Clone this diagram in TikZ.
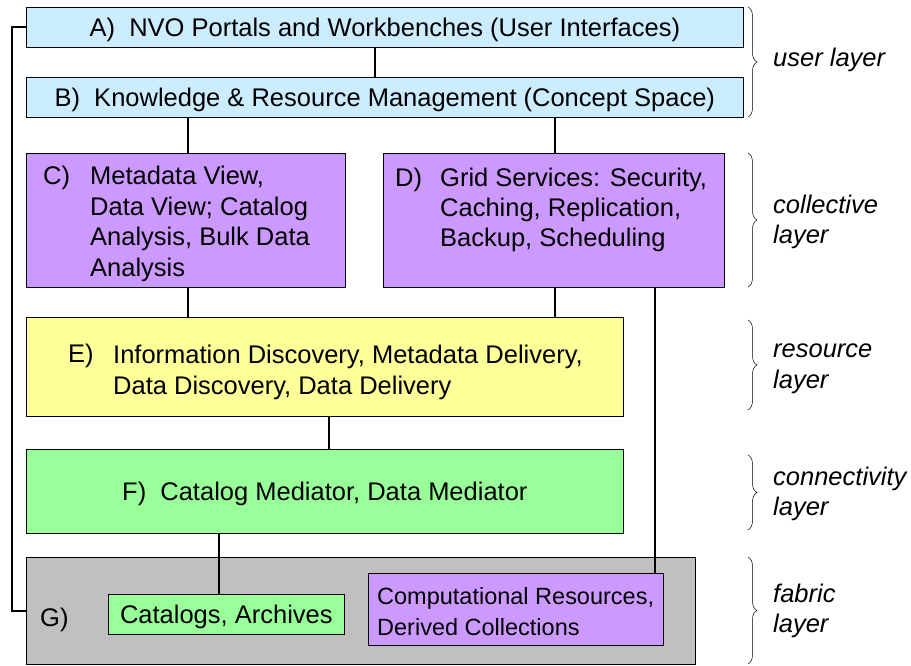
\documentclass[tikz,border=0pt]{standalone}
\usepackage{fontspec}
\setmainfont{Liberation Sans}
\usetikzlibrary{decorations.pathreplacing}
\definecolor{userblue}{HTML}{CCECFF}
\definecolor{gridpurple}{HTML}{CC99FF}
\definecolor{resyellow}{HTML}{FFFF99}
\definecolor{connGreen}{HTML}{99FF99}
\definecolor{fabricgray}{HTML}{C0C0C0}
\begin{document}
\begin{tikzpicture}[
  x=1pt, y=-1pt,
  font=\fontsize{25.5}{30.5}\selectfont,
  every node/.style={inner sep=0pt},
  box/.style={draw, line width=0.7pt, anchor=north west, text depth=0pt},
  txt/.style={anchor=base west, align=left},
  link/.style={draw, line width=1.8pt},
  layerbrace/.style={draw, line width=0.5pt, decorate, decoration={brace, amplitude=9pt}},
  layer/.style={anchor=west, align=left, font=\fontsize{25.5}{30.5}\selectfont\itshape}
]
\useasboundingbox (0,0) rectangle (911,666);
\node[box, fill=userblue, minimum width=717pt, minimum height=40pt] (A) at (26,7)
  {A)\ \ NVO Portals and Workbenches (User Interfaces)};
\node[box, fill=userblue, minimum width=717pt, minimum height=40pt] (B) at (26,77)
  {B)\ \ Knowledge \& Resource Management (Concept Space)};
\node[box, fill=gridpurple, minimum width=319pt, minimum height=134pt] (C) at (26,153) {};
\node[txt] (Cl) at (43,185) {C)};
\node[txt] (Ct) at (90,276) {Metadata View,\\Data View; Catalog\\Analysis, Bulk Data\\Analysis};
\node[box, fill=gridpurple, minimum width=341pt, minimum height=134pt] (D) at (383,153) {};
\node[txt] (Dl) at (395,186) {D)};
\node[txt] (Dt) at (440,247) {Grid Services: Security,\\Caching, Replication,\\Backup, Scheduling};
\node[box, fill=resyellow, minimum width=597pt, minimum height=99pt] (E) at (26,317) {};
\node[txt] (El) at (68,362) {E)};
\node[txt] (Et) at (113,394) {Information Discovery, Metadata Delivery,\\Data Discovery, Data Delivery};
\node[box, fill=connGreen, minimum width=597pt, minimum height=84pt] (F) at (26,449)
  {F)\ \ Catalog Mediator, Data Mediator};
\node[box, fill=fabricgray, minimum width=669pt, minimum height=107pt] (G) at (26,557) {};
\node[txt] (Gl) at (40,626) {G)};
\node[box, fill=connGreen, minimum width=236pt, minimum height=40pt] (cat) at (108,594)
  {Catalogs, Archives};
\node[box, fill=gridpurple, minimum width=295pt, minimum height=72pt] (comp) at (368,573) {};
\node[txt, font=\fontsize{23.5}{31}\selectfont] (compt) at (377,635) {Computational Resources,\\Derived Collections};
\draw[link] (A.south -| 375,0) -- (B.north -| 375,0);
\draw[link] (B.south -| 188,0) -- (C.north -| 188,0);
\draw[link] (B.south -| 555,0) -- (D.north -| 555,0);
\draw[link] (C.south -| 188,0) -- (E.north -| 188,0);
\draw[link] (D.south -| 555,0) -- (E.north -| 555,0);
\draw[link] (E.south -| 329,0) -- (F.north -| 329,0);
\draw[link] (F.south -| 219,0) -- (cat.north -| 219,0);
\draw[link] (D.south -| 655,0) -- (comp.north -| 655,0);
\draw[link] (A.west) -- ++(-14,0) |- (G.west |- 0,611);
\draw[layerbrace] (748,7) -- (748,117);
\draw[layerbrace] (748,153) -- (748,287);
\draw[layerbrace] (748,320) -- (748,410);
\draw[layerbrace] (748,455) -- (748,530);
\draw[layerbrace] (748,557) -- (748,664);
\node[layer] (user) at (773,60) {user layer};
\node[layer] (coll) at (773,222) {collective\\layer};
\node[layer] (res) at (773,369) {resource\\layer};
\node[layer] (conn) at (773,494) {connectivity\\layer};
\node[layer] (fab) at (773,611) {fabric\\layer};
\end{tikzpicture}
\end{document}
